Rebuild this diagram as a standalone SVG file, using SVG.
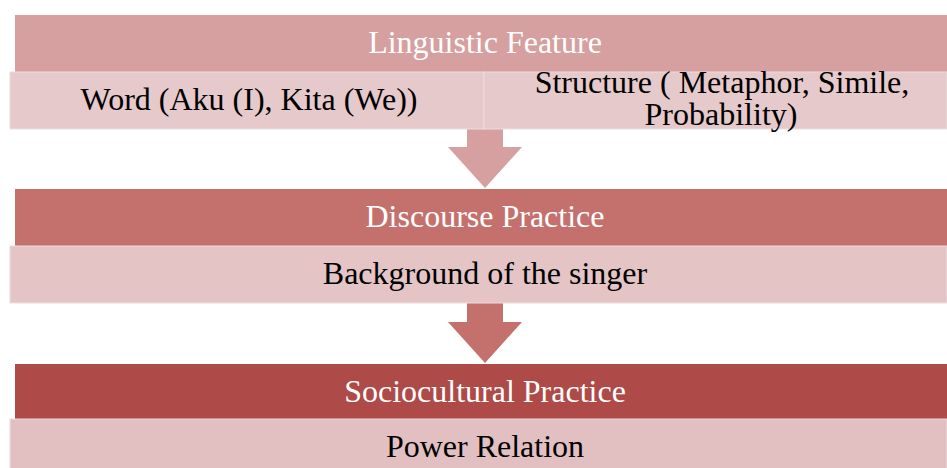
<svg xmlns="http://www.w3.org/2000/svg" width="947" height="468" viewBox="0 0 947 468">
<style>
.h{font-family:"Liberation Serif","Times New Roman",serif;font-size:32px;fill:#ffffff;text-anchor:middle}
.t{font-family:"Liberation Serif","Times New Roman",serif;font-size:32px;fill:#000000;text-anchor:middle}
.sub{stroke:#eedcdc;stroke-width:1}
</style>
<rect width="947" height="468" fill="#ffffff"/>
<g id="connectors">
<polygon points="467,129 503,129 503,147 522,147 485,188 448,147 467,147" fill="#d6a0a0"/>
<polygon points="467,303 503,303 503,322 522,322 485,363 448,322 467,322" fill="#c4716e"/>
</g>
<g id="linguistic">
<rect x="15" y="15" width="932" height="57" fill="#d6a0a0"/>
<text class="h" x="485" y="53">Linguistic Feature</text>
</g>
<g id="word">
<rect class="sub" x="10" y="72" width="474" height="57" fill="#e6c9ca"/>
<text class="t" x="249" y="110">Word (Aku (I), Kita (We))</text>
</g>
<g id="structure">
<rect class="sub" x="484" y="72" width="463" height="57" fill="#e6c9ca"/>
<text class="t" x="722" y="93">Structure ( Metaphor, Simile,</text>
<text class="t" x="721" y="125">Probability)</text>
</g>
<g id="discourse">
<rect x="15" y="189" width="932" height="57" fill="#c4716e"/>
<text class="h" x="485" y="227">Discourse Practice</text>
</g>
<g id="background">
<rect class="sub" x="10" y="246" width="937" height="57" fill="#e4c4c5"/>
<text class="t" x="485" y="284">Background of the singer</text>
</g>
<g id="sociocultural">
<rect x="15" y="364" width="932" height="55" fill="#ae4a47"/>
<text class="h" x="485" y="402">Sociocultural Practice</text>
</g>
<g id="power">
<rect class="sub" x="10" y="419" width="937" height="55" fill="#e2c0c1"/>
<text class="t" x="485" y="457">Power Relation</text>
</g>
</svg>
